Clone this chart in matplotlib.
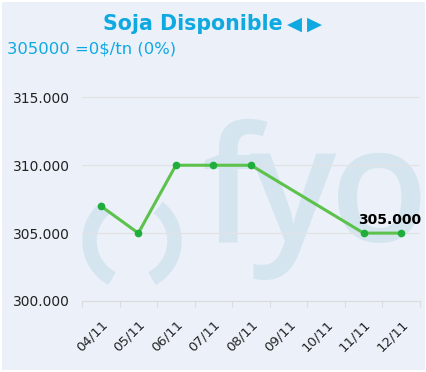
import matplotlib
matplotlib.use("Agg")
import matplotlib.pyplot as plt
from matplotlib.patches import Rectangle, Arc
import numpy as np

dates = ["04/11", "05/11", "06/11", "07/11", "08/11", "09/11", "10/11", "11/11", "12/11"]
prices = [307000, 305000, 310000, 310000, 310000, None, None, 305000, 305000]
y_ticks = [300000, 305000, 310000, 315000]
y_labels = ["300.000", "305.000", "310.000", "315.000"]

bg = "#ebf0f9"
blue = "#0fa9e2"
wm = "#d5e5f0"

fig = plt.figure(figsize=(4.27, 3.72), dpi=100, facecolor="white")

# background + watermark, in pixel coordinates
bga = fig.add_axes([0, 0, 1, 1], zorder=-1)
bga.set_xlim(0, 427)
bga.set_ylim(372, 0)
bga.axis("off")
bga.add_patch(Rectangle((2, 2), 423, 368, facecolor=bg, edgecolor="none"))
bga.add_patch(Arc((132, 241), 85, 85, theta1=118, theta2=232, color=wm, lw=10.5))
bga.add_patch(Arc((132, 241), 85, 85, theta1=-52, theta2=62, color=wm, lw=10.5))
wm_font = dict(fontsize=116, family="Open Sans", fontweight="semibold", color=wm,
               va="baseline")
bga.text(201, 241, "f", ha="left", **wm_font)
bga.text(292, 241, "y", ha="center", **wm_font)
bga.text(379, 241, "o", ha="center", **wm_font)

ax = fig.add_axes([82 / 427, 71 / 372, 338 / 427, 224 / 372])
ax.set_facecolor("none")

x_idx = np.arange(len(dates))
xs = [i for i, p in zip(x_idx, prices) if p is not None]
ys = [p for p in prices if p is not None]

ax.plot(xs, ys, color="#5cc24b", lw=2.2, zorder=3, solid_capstyle="round")
ax.plot(xs, ys, "o", color="#1fae3c", ms=4.5, zorder=4)

ax.annotate("305.000", xy=(xs[-1], ys[-1]), xytext=(-8, 4.5), textcoords="offset points",
            ha="center", va="bottom", fontsize=10, fontweight="bold", color="black")

ax.set_xlim(-0.5, len(dates) - 0.5)
ax.set_ylim(300000, 316500)
ax.set_yticks(y_ticks)
ax.set_yticklabels(y_labels)
ax.grid(axis="y", color="#e2e2e2", lw=0.8)
ax.set_axisbelow(True)

ax.set_xticks(x_idx)
ax.set_xticklabels(dates, rotation=45, ha="right", rotation_mode="anchor")
ax.set_xticks(np.arange(-0.5, len(dates)), minor=True)
ax.tick_params(axis="x", which="major", length=0, pad=12, labelsize=9.5, labelcolor="#222222")
ax.tick_params(axis="x", which="minor", length=4, color="#dcdcdc", width=0.8)
ax.tick_params(axis="y", length=0, pad=8.5, labelsize=10, labelcolor="#222222")

for s in ["top", "right", "left"]:
    ax.spines[s].set_visible(False)
ax.spines["bottom"].set_color("#dcdcdc")
ax.spines["bottom"].set_linewidth(0.8)

fig.text(103 / 427, 342 / 372, "Soja Disponible", fontsize=14.8, fontweight="bold",
         color=blue, ha="left", va="baseline")
fig.text(294 / 427, 342 / 372, "\u25c0", fontsize=14, color=blue, ha="center", va="baseline")
fig.text(314 / 427, 342 / 372, "\u25b6", fontsize=14, color=blue, ha="center", va="baseline")
fig.text(7 / 427, 318 / 372, "305000 =0$/tn (0%)", fontsize=11.8, color=blue,
         ha="left", va="baseline")

fig.savefig("out.png", dpi=100, facecolor="white")
